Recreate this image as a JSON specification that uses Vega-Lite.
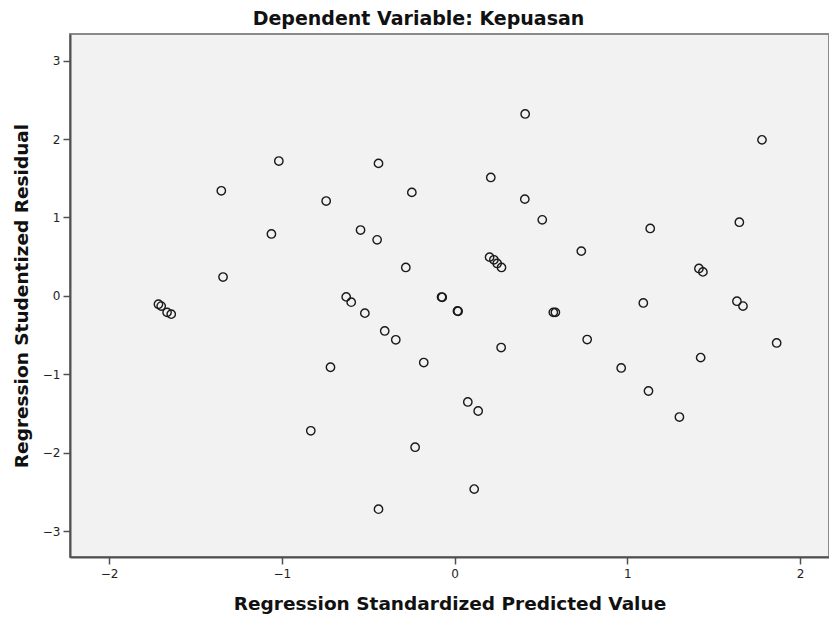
{
  "$schema": "https://vega.github.io/schema/vega-lite/v6.json",
  "width": 759,
  "height": 523,
  "autosize": {"type": "none"},
  "padding": {"left": 70, "top": 34, "right": 0, "bottom": 64},
  "background": "white",
  "title": {
    "text": "Dependent Variable: Kepuasan",
    "fontSize": 19,
    "fontWeight": "bold",
    "font": "DejaVu Sans",
    "color": "#111",
    "anchor": "middle",
    "dx": -31,
    "offset": 5
  },
  "config": {
    "view": {"fill": "#F2F2F2", "stroke": "#8a8a8a", "strokeWidth": 2},
    "axis": {
      "grid": false,
      "domainColor": "#505050",
      "domainWidth": 2,
      "tickColor": "#505050",
      "tickWidth": 1.5,
      "tickSize": 7,
      "labelFont": "DejaVu Sans",
      "labelFontSize": 12,
      "labelColor": "#222",
      "titleFont": "DejaVu Sans",
      "titleFontSize": 18.5,
      "titleFontWeight": "bold",
      "titleColor": "#111"
    }
  },
  "data": {
    "values": [
      {"predicted": -1.714, "residual": -0.106},
      {"predicted": -1.698, "residual": -0.13},
      {"predicted": -1.664, "residual": -0.21},
      {"predicted": -1.64, "residual": -0.233},
      {"predicted": -1.35, "residual": 1.34},
      {"predicted": -1.34, "residual": 0.24},
      {"predicted": -1.017, "residual": 1.72},
      {"predicted": -1.06, "residual": 0.79},
      {"predicted": -0.743, "residual": 1.21},
      {"predicted": -0.544, "residual": 0.84},
      {"predicted": -0.44, "residual": 1.69},
      {"predicted": -0.448, "residual": 0.715},
      {"predicted": -0.247, "residual": 1.32},
      {"predicted": -0.282, "residual": 0.363},
      {"predicted": -0.627, "residual": -0.013},
      {"predicted": -0.598, "residual": -0.08},
      {"predicted": -0.519, "residual": -0.22},
      {"predicted": -0.404, "residual": -0.447},
      {"predicted": -0.34, "residual": -0.56},
      {"predicted": -0.718, "residual": -0.91},
      {"predicted": -0.832, "residual": -1.72},
      {"predicted": -0.44, "residual": -2.72},
      {"predicted": -0.228, "residual": -1.93},
      {"predicted": -0.178, "residual": -0.85},
      {"predicted": 0.077, "residual": -1.353},
      {"predicted": 0.137, "residual": -1.468},
      {"predicted": 0.114, "residual": -2.464},
      {"predicted": 0.27, "residual": -0.659},
      {"predicted": 0.017, "residual": -0.192},
      {"predicted": 0.021, "residual": -0.196},
      {"predicted": -0.075, "residual": -0.015},
      {"predicted": -0.071, "residual": -0.018},
      {"predicted": 0.572, "residual": -0.21},
      {"predicted": 0.584, "residual": -0.21},
      {"predicted": 1.093, "residual": -0.09},
      {"predicted": 1.635, "residual": -0.068},
      {"predicted": 1.67, "residual": -0.13},
      {"predicted": 1.415, "residual": 0.35},
      {"predicted": 1.438, "residual": 0.306},
      {"predicted": 0.734, "residual": 0.571},
      {"predicted": 1.133, "residual": 0.86},
      {"predicted": 1.649, "residual": 0.94},
      {"predicted": 1.78, "residual": 1.99},
      {"predicted": 0.409, "residual": 2.32},
      {"predicted": 0.21, "residual": 1.51},
      {"predicted": 0.407, "residual": 1.234},
      {"predicted": 0.508, "residual": 0.97},
      {"predicted": 0.203, "residual": 0.494},
      {"predicted": 0.228, "residual": 0.46},
      {"predicted": 0.247, "residual": 0.414},
      {"predicted": 0.272, "residual": 0.363},
      {"predicted": 0.768, "residual": -0.557},
      {"predicted": 0.965, "residual": -0.919},
      {"predicted": 1.123, "residual": -1.213},
      {"predicted": 1.302, "residual": -1.545},
      {"predicted": 1.425, "residual": -0.787},
      {"predicted": 1.865, "residual": -0.6}
    ]
  },
  "mark": {"type": "point", "shape": "circle", "filled": false, "stroke": "#1a1a1a", "strokeWidth": 1.4, "size": 70, "opacity": 1},
  "encoding": {
    "x": {
      "field": "predicted",
      "type": "quantitative",
      "scale": {"domain": [-2.226, 2.168], "nice": false, "zero": false},
      "axis": {"title": "Regression Standardized Predicted Value", "values": [-2, -1, 0, 1, 2], "labelPadding": 4, "titlePadding": 15}
    },
    "y": {
      "field": "residual",
      "type": "quantitative",
      "scale": {"domain": [-3.33, 3.34], "nice": false, "zero": false},
      "axis": {"title": "Regression Studentized Residual", "values": [-3, -2, -1, 0, 1, 2, 3], "labelPadding": 3, "titlePadding": 11}
    }
  }
}
